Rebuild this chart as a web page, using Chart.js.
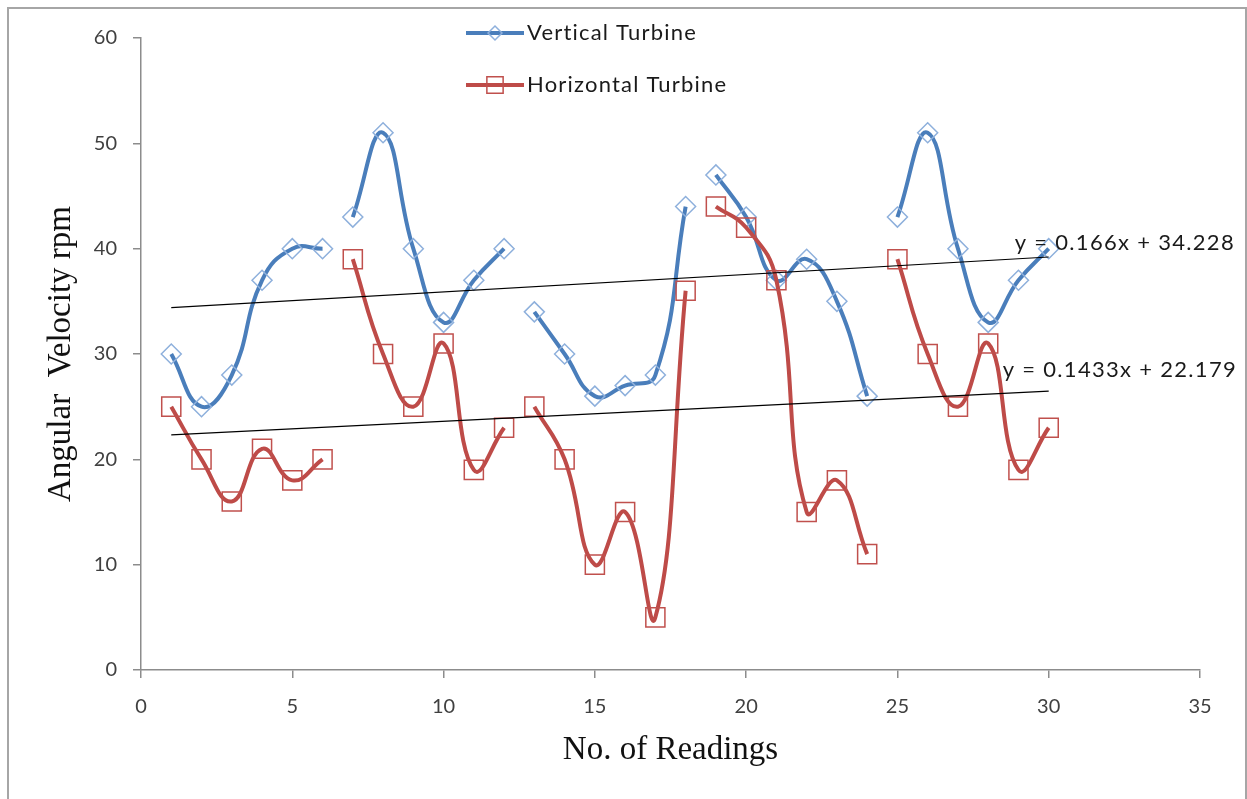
<!DOCTYPE html>
<html>
<head>
<meta charset="utf-8">
<title>Angular Velocity</title>
<script src="https://cdn.jsdelivr.net/npm/chart.js@4.4.1/dist/chart.umd.min.js"></script>
<style>
  html, body { margin: 0; padding: 0; background: #fff; }
  #wrap { position: relative; width: 1247px; height: 799px; overflow: hidden; }
  #frame { position: absolute; left: 7px; top: 7px; width: 1240px; height: 820px;
           border: 2px solid #a6a6a6; box-sizing: border-box; pointer-events: none; }
  canvas { position: absolute; left: 0; top: 0; }
</style>
</head>
<body>
<div id="wrap">
  <canvas id="chart" width="1247" height="799"></canvas>
  <div id="frame"></div>
</div>
<script>
const readings = [1, 2, 3, 4, 5, 6, 7, 8, 9, 10, 11, 12, 13, 14, 15,
                  16, 17, 18, 19, 20, 21, 22, 23, 24, 25, 26, 27, 28, 29, 30];
const vertical = [30, 25, 28, 37, 40, 40, 43, 51, 40, 33, 37, 40, 34, 30, 26,
                  27, 28, 44, 47, 43, 37, 39, 35, 26, 43, 51, 40, 33, 37, 40];
const horizontal = [25, 20, 16, 21, 18, 20, 39, 30, 25, 31, 19, 23, 25, 20, 10,
                    15, 5, 36, 44, 42, 37, 15, 18, 11, 39, 30, 25, 31, 19, 23];
// readings were taken in runs of six, the line breaks between runs
const runLength = 6;

// linear trendlines: [slope, intercept]
const verticalTrend = [0.166, 34.228];
const horizontalTrend = [0.1433, 22.179];

const xTicks = { min: 0, max: 35, step: 5 };
const yTicks = { min: 0, max: 60, step: 10 };

const blue = "#4a7ebb";
const red = "#be4b48";
const labelFont = "22px Lato";

// points with a null after each run so the curve breaks
function withGaps(values) {
  const pts = [];
  readings.forEach((x, i) => {
    pts.push({ x: x, y: values[i] });
    if ((i + 1) % runLength === 0 && i < readings.length - 1) {
      pts.push({ x: x + 0.5, y: null });
    }
  });
  return pts;
}

function trendPoints(t) {
  const x0 = readings[0], x1 = readings[readings.length - 1];
  return [{ x: x0, y: t[0] * x0 + t[1] }, { x: x1, y: t[0] * x1 + t[1] }];
}

function trendLabel(t) {
  return "y = " + t[0] + "x + " + t[1];
}

// equation labels next to the right end of each trendline
const trendLabels = {
  id: "trendLabels",
  afterDatasetsDraw(chart) {
    const ctx = chart.ctx;
    const xs = chart.scales.x, ys = chart.scales.y;
    const xEnd = readings[readings.length - 1];
    const items = [
      { t: verticalTrend, dx: -34, dy: -14 },
      { t: horizontalTrend, dx: -46, dy: -21 },
    ];
    ctx.save();
    ctx.font = labelFont;
    ctx.letterSpacing = "1.3px";
    ctx.fillStyle = "#1a1a1a";
    ctx.textAlign = "left";
    ctx.textBaseline = "middle";
    items.forEach(it => {
      const px = xs.getPixelForValue(xEnd);
      const py = ys.getPixelForValue(it.t[0] * xEnd + it.t[1]);
      ctx.fillText(trendLabel(it.t), px + it.dx, py + it.dy);
    });
    ctx.restore();
  }
};

// legend drawn as two stacked rows at the top
const stackedLegend = {
  id: "stackedLegend",
  afterDraw(chart) {
    const ctx = chart.ctx;
    const rows = [
      { ds: chart.data.datasets[0], y: 33, r: 7 },
      { ds: chart.data.datasets[1], y: 85, r: 11.5 },
    ];
    ctx.save();
    rows.forEach(row => {
      ctx.strokeStyle = row.ds.borderColor;
      ctx.lineWidth = row.ds.borderWidth;
      ctx.beginPath();
      ctx.moveTo(466, row.y);
      ctx.lineTo(524, row.y);
      ctx.stroke();
      // hollow marker, line runs through it
      ctx.fillStyle = "rgba(0,0,0,0)";
      ctx.lineWidth = row.ds.pointBorderWidth;
      ctx.strokeStyle = row.ds.pointBorderColor;
      Chart.helpers.drawPoint(ctx, {
        pointStyle: row.ds.pointStyle,
        radius: row.r,
        rotation: 0,
        borderWidth: row.ds.pointBorderWidth
      }, 495, row.y);
      ctx.fillStyle = "#1a1a1a";
      ctx.font = labelFont;
      ctx.letterSpacing = "1.2px";
      ctx.textBaseline = "middle";
      ctx.fillText(row.ds.label, 527, row.y);
    });
    ctx.restore();
  }
};

const data = {
  datasets: [
    {
      label: "Vertical Turbine",
      data: withGaps(vertical),
      borderColor: blue,
      borderWidth: 4,
      tension: 0.45,
      pointStyle: "rectRot",
      pointRadius: 10,
      pointBorderWidth: 1.5,
      pointBorderColor: "#8eb0dc",
      pointBackgroundColor: "rgba(0,0,0,0)",
      order: 2,
    },
    {
      label: "Horizontal Turbine",
      data: withGaps(horizontal),
      borderColor: red,
      borderWidth: 4,
      tension: 0.45,
      pointStyle: "rect",
      pointRadius: 13.5,
      pointBorderWidth: 1.5,
      pointBorderColor: "#c0504d",
      pointBackgroundColor: "rgba(0,0,0,0)",
      order: 1,
    },
    {
      label: "vertical trend",
      data: trendPoints(verticalTrend),
      borderColor: "#000",
      borderWidth: 1.2,
      pointRadius: 0,
      order: 0,
    },
    {
      label: "horizontal trend",
      data: trendPoints(horizontalTrend),
      borderColor: "#000",
      borderWidth: 1.2,
      pointRadius: 0,
      order: 0,
    },
  ],
};

const config = {
  type: "line",
  data: data,
  options: {
    responsive: false,
    animation: false,
    spanGaps: false,
    layout: { padding: { top: 38, right: 47, left: 42, bottom: 29 } },
    plugins: {
      legend: { display: false },
      tooltip: { enabled: false },
    },
    scales: {
      x: {
        type: "linear",
        min: xTicks.min,
        max: xTicks.max,
        ticks: { stepSize: xTicks.step, color: "#404040", font: { family: "Lato", size: 20 }, padding: 17 },
        grid: { drawOnChartArea: false, tickLength: 8, color: "#8c8c8c", lineWidth: 1.5 },
        border: { color: "#8c8c8c", width: 1.5 },
        title: {
          display: true,
          text: "No. of Readings",
          color: "#111",
          font: { family: "Liberation Serif", size: 33 },
          padding: 0,
        },
        afterFit(scale) { scale.height = 100; },
      },
      y: {
        min: yTicks.min,
        max: yTicks.max,
        ticks: { stepSize: yTicks.step, color: "#404040", font: { family: "Lato", size: 20 }, padding: 16 },
        grid: { drawOnChartArea: false, tickLength: 8, color: "#8c8c8c", lineWidth: 1.5 },
        border: { color: "#8c8c8c", width: 1.5 },
        title: {
          display: true,
          text: "Angular  Velocity rpm",
          color: "#111",
          font: { family: "Liberation Serif", size: 33 },
          padding: 0,
        },
        afterFit(scale) { scale.width = 99; },
      },
    },
  },
  plugins: [trendLabels, stackedLegend],
};

const myChart = new Chart(document.getElementById("chart"), config);
</script>
</body>
</html>
